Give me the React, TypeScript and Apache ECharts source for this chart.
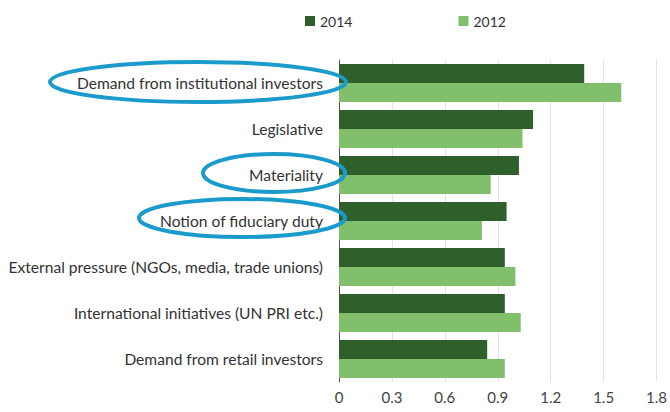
import React, { useEffect, useRef } from "react";
import * as echarts from "echarts";

const categories = [
  "Demand from institutional investors",
  "Legislative",
  "Materiality",
  "Notion of fiduciary duty",
  "External pressure (NGOs, media, trade unions)",
  "International initiatives (UN PRI etc.)",
  "Demand from retail investors",
];
const values2014 = [1.39, 1.1, 1.02, 0.95, 0.94, 0.94, 0.84];
const values2012 = [1.6, 1.04, 0.86, 0.81, 1.0, 1.03, 0.94];
const seriesNames = ["2014", "2012"];
const tickInterval = 0.3;
const axisMax = 1.8;

const FONT = "Lato, 'Open Sans', sans-serif";
const BLUE = "#1b9bcc";

export default function App() {
  const ref = useRef<HTMLDivElement>(null);
  useEffect(() => {
    if (!ref.current) return;
    const chart = echarts.init(ref.current, undefined, { renderer: "svg" });
    chart.setOption({
      animation: false,
      backgroundColor: "#ffffff",
      textStyle: { fontFamily: FONT },
      legend: {
        data: seriesNames,
        left: 300,
        top: 9,
        itemWidth: 10,
        itemHeight: 10,
        itemGap: 106,
        icon: "rect",
        textStyle: { fontSize: 14, color: "#333", fontFamily: FONT },
      },
      grid: { left: 339, right: 10, top: 60, bottom: 30, containLabel: false },
      xAxis: {
        type: "value",
        min: 0,
        max: axisMax,
        interval: tickInterval,
        axisLine: { show: false },
        axisTick: { show: false },
        splitLine: { show: true, lineStyle: { color: "#e3e3e3", width: 1 } },
        axisLabel: { color: "#444", fontSize: 15, margin: 7, fontFamily: FONT },
      },
      yAxis: {
        type: "category",
        data: categories,
        inverse: true,
        axisLine: { show: true, lineStyle: { color: "#555", width: 1 } },
        axisTick: { show: false },
        axisLabel: { color: "#333", fontSize: 15.6, margin: 16, fontFamily: FONT },
      },
      series: [
        {
          name: seriesNames[0],
          type: "bar",
          data: values2014,
          barGap: "0%",
          barCategoryGap: "17%",
          itemStyle: { color: "#2f5f2b" },
        },
        {
          name: seriesNames[1],
          type: "bar",
          data: values2012,
          barGap: "0%",
          barCategoryGap: "17%",
          itemStyle: { color: "#82bf6c" },
        },
      ],
      graphic: [
        {
          type: "ellipse",
          z: 100,
          shape: { cx: 198, cy: 82, rx: 148, ry: 20 },
          style: { fill: "none", stroke: BLUE, lineWidth: 4 },
        },
        {
          type: "ellipse",
          z: 100,
          shape: { cx: 274, cy: 173, rx: 71, ry: 19 },
          style: { fill: "none", stroke: BLUE, lineWidth: 4 },
        },
        {
          type: "ellipse",
          z: 100,
          shape: { cx: 242, cy: 218, rx: 103, ry: 19 },
          style: { fill: "none", stroke: BLUE, lineWidth: 4 },
        },
      ],
    });
    return () => chart.dispose();
  }, []);
  return <div ref={ref} style={{ width: 670, height: 412, position: "absolute", left: 0, top: 0 }} />;
}
